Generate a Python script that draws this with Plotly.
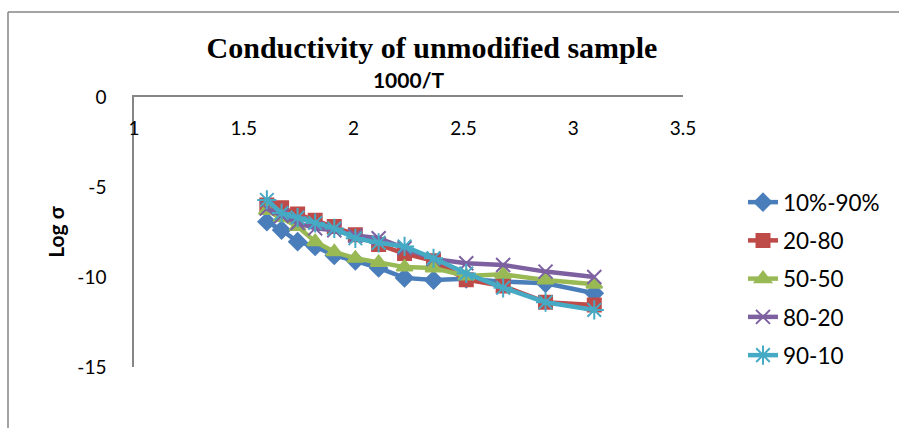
import plotly.graph_objects as go

x_vals = [1.605, 1.672, 1.745, 1.825, 1.912, 2.008, 2.114, 2.232, 2.364, 2.513, 2.681, 2.874, 3.096]

s_10_90 = [-6.93, -7.39, -8.04, -8.3, -8.8, -9.1, -9.5, -10.05, -10.17, -10.1, -10.26, -10.35, -10.9]
s_20_80 = [-6.0, -6.15, -6.5, -6.85, -7.2, -7.65, -8.2, -8.7, -9.1, -10.15, -10.5, -11.4, -11.55]
s_50_50 = [-6.3, -6.7, -7.2, -8.04, -8.6, -8.96, -9.2, -9.45, -9.5, -9.95, -9.85, -10.17, -10.4]
s_80_20 = [-6.2, -6.6, -7.0, -7.3, -7.4, -7.7, -7.85, -8.4, -9.0, -9.24, -9.33, -9.7, -10.0]
s_90_10 = [-5.72, -6.45, -6.7, -7.0, -7.3, -7.85, -8.1, -8.3, -8.96, -9.8, -10.6, -11.4, -11.83]

series_names = ["10%-90%", "20-80", "50-50", "80-20", "90-10"]
series_values = [s_10_90, s_20_80, s_50_50, s_80_20, s_90_10]
colors = ["#4A7EBB", "#BE4B48", "#98B954", "#7D60A0", "#46AAC5"]
symbols = ["diamond", "square", "triangle-up", "x-thin-open", "asterisk-open"]
msizes = [13, 13, 14, 14, 16]

x_ticks = [1, 1.5, 2, 2.5, 3, 3.5]
y_ticks = [0, -5, -10, -15]

fig = go.Figure()
for i, (name, vals) in enumerate(zip(series_names, series_values)):
    fig.add_trace(go.Scatter(
        x=x_vals, y=vals, name=name, mode="lines+markers",
        legendgroup=name,
        line=dict(color=colors[i], width=4.5),
        marker=dict(symbol=symbols[i], size=msizes[i], color=colors[i],
                    line=dict(color=colors[i], width=2)),
    ))

L, R, T, B = 134, 683, 97, 367
W, H = 899, 428
pw, ph = R - L, B - T

def px(xp):
    return (xp - L) / pw

def py(yp):
    return (B - yp) / ph

fig.update_layout(
    width=W, height=H,
    margin=dict(l=L, r=W - R, t=T, b=H - B),
    paper_bgcolor="white", plot_bgcolor="white",
    showlegend=True,
    title=dict(text="<b>Conductivity of unmodified sample</b>",
               font=dict(family="Liberation Serif", size=30, color="black"),
               x=px(432), xref="paper", xanchor="center",
               y=1 - 47 / H, yref="container", yanchor="middle"),
    legend=dict(x=px(743), xanchor="left", y=py(181), yanchor="top",
                font=dict(family="Lato", size=22.5, color="black"),
                tracegroupgap=6, bgcolor="rgba(0,0,0,0)"),
    xaxis=dict(range=[1, 3.5], tickvals=x_ticks, ticktext=[str(v) for v in x_ticks],
               side="top", showline=True, linecolor="#868686", linewidth=1.5,
               showgrid=False, zeroline=False, ticks="",
               ticklabelposition="inside", ticklabelstandoff=26,
               ticklabeloverflow="allow",
               tickfont=dict(family="Lato", size=19, color="black"),
               title=dict(text="<b>1000/T</b>", font=dict(family="Lato", size=21, color="black"),
                          standoff=22)),
    yaxis=dict(range=[-15, 0], tickvals=y_ticks, ticktext=[str(v) for v in y_ticks],
               showline=True, linecolor="#868686", linewidth=1.5,
               showgrid=False, zeroline=False, ticks="",
               ticklabelstandoff=22, ticklabeloverflow="allow",
               tickfont=dict(family="Lato", size=19, color="black"),
               title=dict(text="<b>Log σ</b>", font=dict(family="Lato", size=21, color="black"),
                          standoff=7)),
    shapes=[
        dict(type="line", xref="paper", yref="paper",
             x0=px(8), x1=px(899), y0=py(12), y1=py(12),
             line=dict(color="#868686", width=1.5), layer="below"),
        dict(type="line", xref="paper", yref="paper",
             x0=px(8), x1=px(8), y0=py(12), y1=py(428),
             line=dict(color="#868686", width=1.5), layer="below"),
    ],
)

fig.write_html(
    "out.html",
    config={"displayModeBar": False},
    post_script="document.documentElement.style.overflow='hidden';document.body.style.overflow='hidden';document.body.style.margin='0';",
)
